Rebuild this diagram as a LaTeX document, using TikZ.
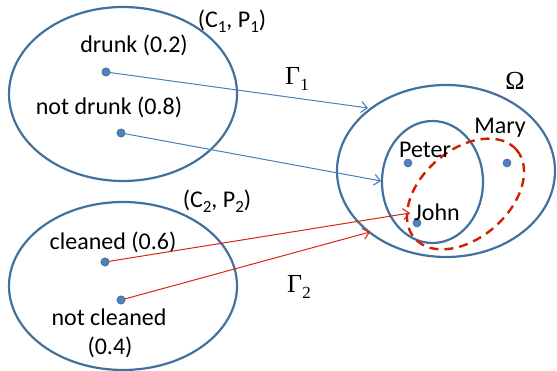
\documentclass[tikz,border=0pt]{standalone}
\usepackage{fontspec}
\setmainfont{Carlito}
\newfontfamily\timesf{Liberation Serif}
\usetikzlibrary{arrows.meta}
\definecolor{setblue}{HTML}{41719C}
\definecolor{dotblue}{HTML}{4F81BD}
\definecolor{arrblue}{HTML}{4A7EBB}
\definecolor{arrred}{HTML}{D8280C}
\definecolor{dashred}{HTML}{D02000}
\newcommand\mysub[1]{\raisebox{-0.22em}{\fontsize{17}{17}\selectfont #1}}
\tikzset{
  setline/.style={draw=setblue, line width=2.2pt},
  pt/.style={circle, fill=dotblue, draw=setblue, line width=0.6pt, inner sep=0pt, minimum size=8pt},
  lbl/.style={font=\fontsize{24}{27}\selectfont, inner sep=0pt},
  greek/.style={font=\timesf\fontsize{26}{29}\selectfont, inner sep=0pt},
  barrow/.style={draw=arrblue, line width=1pt, -{Straight Barb[length=6pt,width=11pt,line width=1.1pt]}},
  rarrow/.style={draw=arrred, line width=1pt, -{Straight Barb[length=6pt,width=11pt,line width=1.1pt]}},
}
\begin{document}
\begin{tikzpicture}[x=1pt,y=1pt]
\useasboundingbox (0,0) rectangle (557,371);
% sets
\draw[setline] (123,277) ellipse [x radius=114, y radius=87];
\draw[setline] (123,85) ellipse [x radius=114, y radius=84];
\draw[setline] (446,200) ellipse [x radius=109, y radius=86];
\draw[setline] (432.5,189) ellipse [x radius=50.5, y radius=61];
\draw[draw=dashred, line width=2.4pt, dash pattern=on 9pt off 6pt] (465.5,177) ellipse [x radius=67.5, y radius=44, rotate=41];
% dots
\node[pt] (drunk) at (106,299) {};
\node[pt] (notdrunk) at (121,238) {};
\node[pt] (cleaned) at (105,109) {};
\node[pt] (notcleaned) at (121,71) {};
\node[pt] (peter) at (408,208) {};
\node[pt] (mary) at (507,208) {};
\node[pt] (john) at (417,148) {};
% labels
\node[lbl] (ldrunk) at (134,326) {drunk (0.2)};
\node[lbl] (lnotdrunk) at (109,264) {not drunk (0.8)};
\node[lbl] (lc1) at (232,350) {(C\mysub{1}, P\mysub{1})};
\node[greek] (g1) at (297,292) {Γ\mysub{\timesf 1}};
\node[greek] (om) at (515,290) {Ω};
\node[lbl] (lmary) at (500,243) {Mary};
\node[lbl] (lpeter) at (425,221) {Peter};
\node[lbl] (ljohn) at (437,159) {John};
\node[lbl] (lc2) at (217,170) {(C\mysub{2}, P\mysub{2})};
\node[lbl] (lcleaned) at (113,129) {cleaned (0.6)};
\node[lbl] (lnotcleaned) at (109,54) {not cleaned};
\node[lbl] (lp4) at (110,24) {(0.4)};
\node[greek] (g2) at (299,84) {Γ\mysub{\timesf 2}};
% arrow ends
\coordinate (e1) at (368,263);
\coordinate (e2) at (381,190);
\coordinate (e3) at (410,158);
\coordinate (e4) at (370,139);
\draw[barrow] (drunk.center) -- (e1);
\draw[barrow] (notdrunk.center) -- (e2);
\draw[rarrow] (cleaned.center) -- (e3);
\draw[rarrow] (notcleaned.center) -- (e4);
\node[pt] at (drunk) {};
\node[pt] at (notdrunk) {};
\node[pt] at (cleaned) {};
\node[pt] at (notcleaned) {};
\end{tikzpicture}
\end{document}
